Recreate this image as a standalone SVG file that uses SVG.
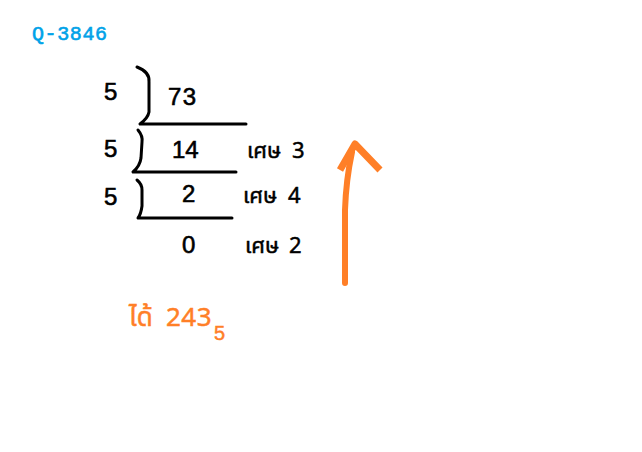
<svg xmlns="http://www.w3.org/2000/svg" width="642" height="452" viewBox="0 0 642 452">
<style>
.t{font-family:"Liberation Sans","Noto Sans Thai","Noto Sans",sans-serif;fill:#000;stroke:#000;stroke-width:0.6;font-size:24px}
.th{font-family:"Noto Sans Thai","Liberation Sans","Noto Sans",sans-serif;font-size:22px;fill:#000;stroke:#000;stroke-width:0.5}
.ln{fill:none;stroke:#000;stroke-width:3;stroke-linecap:round;stroke-linejoin:round}
.or{fill:#FF7F27;stroke:#FF7F27;stroke-width:0.5}
</style>
<rect width="642" height="452" fill="#fff"/>
<g id="title"><text x="32" y="40" font-family="Liberation Mono,monospace" font-size="20" letter-spacing="0.6" fill="#00A2E8" stroke="#00A2E8" stroke-width="0.6">Q-3846</text></g>
<g id="step1">
<text class="t" x="104" y="100">5</text>
<path class="ln" d="M137,67 Q150,72 149,82 L149,112 Q148,118 140,124 L246,124"/>
<text class="t" x="168" y="105" letter-spacing="1.5">73</text>
</g>
<g id="step2">
<text class="t" x="104" y="157">5</text>
<path class="ln" d="M138,130 Q143,136 142,142 L141,158 Q140,166 133,172 L236,172"/>
<text class="t" x="172" y="158">14</text>
<text class="th" x="247" y="158">เศษ <tspan x="292">3</tspan></text>
</g>
<g id="step3">
<text class="t" x="104" y="205">5</text>
<path class="ln" d="M137,180 Q142,184 142,190 L142,206 Q141,214 138,218 L232,218"/>
<text class="t" x="182" y="202">2</text>
<text class="th" x="243" y="203">เศษ <tspan x="288">4</tspan></text>
</g>
<g id="step4">
<text class="t" x="182" y="253">0</text>
<text class="th" x="245" y="253">เศษ <tspan x="289">2</tspan></text>
</g>
<g id="arrow">
<path d="M345,283 L345,210 Q346,180 352,152" fill="none" stroke="#FF7F27" stroke-width="6" stroke-linecap="round"/>
<path d="M340,170 L355,144 L380,170" fill="none" stroke="#FF7F27" stroke-width="7" stroke-linejoin="round"/>
</g>
<g id="answer">
<text x="129" y="326" font-family="Noto Sans Thai,Liberation Sans,sans-serif" font-size="26" class="or">ได้ <tspan x="166" letter-spacing="0.5">243</tspan></text>
<text x="214" y="340" font-family="Liberation Sans,sans-serif" font-size="20" class="or">5</text>
</g>
</svg>
